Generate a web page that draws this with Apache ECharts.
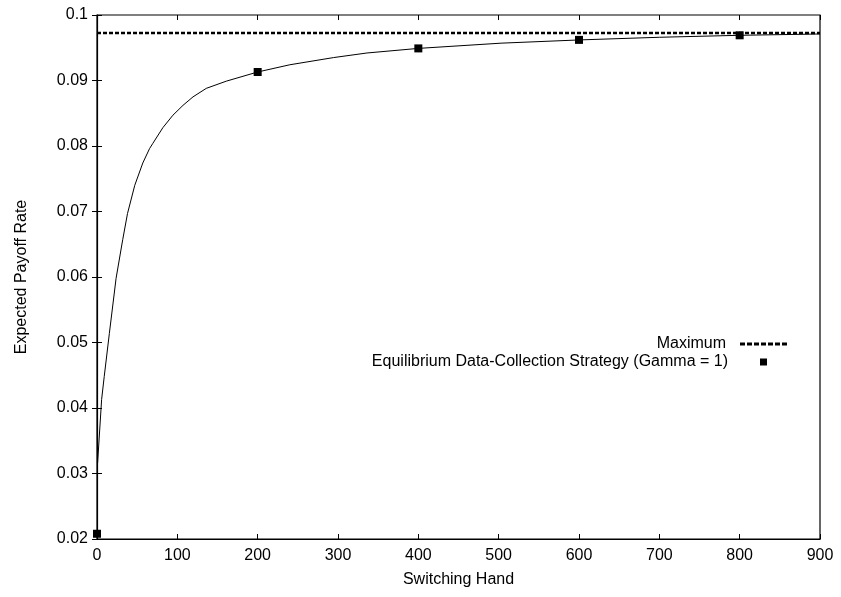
<!DOCTYPE html>
<html>
<head>
<meta charset="utf-8">
<script src="https://cdn.jsdelivr.net/npm/echarts@6/dist/echarts.min.js"></script>
<style>
  html, body { margin: 0; padding: 0; background: #fff; }
  #chart { width: 841px; height: 597px; }
</style>
</head>
<body>
<div id="chart"></div>
<script>
// values
var xTicks = [0, 100, 200, 300, 400, 500, 600, 700, 800, 900];
var curveX = [0.75, 5.75, 9, 15.4, 23.75, 32, 38, 47, 57, 65.4, 69.5, 82, 94.5, 107, 119.5, 136, 161, 200, 240, 294.5, 336, 400, 503, 602, 700, 800, 900];
var curveY = [0.0316, 0.0413, 0.0448, 0.0514, 0.0598, 0.0657, 0.0697, 0.0740, 0.0774, 0.0796, 0.0804, 0.0828, 0.0847, 0.0862, 0.0875, 0.0888, 0.0899, 0.0913, 0.0924, 0.0935, 0.0942, 0.0949, 0.0957, 0.0962, 0.0966, 0.0969, 0.0971];
var maxX = [0, 900];
var maxY = [0.09725, 0.09725];
var eqX = [0, 200, 400, 600, 800];
var eqY = [0.0208, 0.0913, 0.0949, 0.0962, 0.0969];

function pairs(xs, ys) {
    return xs.map(function (x, i) { return [x, ys[i]]; });
}

var font = 'Liberation Sans, Arial, sans-serif';
var fs = 16;
var chart = echarts.init(document.getElementById('chart'), null, { renderer: 'canvas' });

var tickIn = { show: true, inside: true, length: 5, lineStyle: { color: '#000', width: 1 } };
// legend sample for the dashed line: seven short dashes
var dashIcon = 'path://M0 0H5V1H0Z M7 0H12V1H7Z M14 0H19V1H14Z M21 0H26V1H21Z M28 0H33V1H28Z M35 0H40V1H35Z M42 0H47V1H42Z';

var option = {
    animation: false,
    grid: {
        left: 97, right: 21, top: 15, bottom: 58,
        show: true, borderColor: '#000', borderWidth: 1.2, backgroundColor: '#fff'
    },
    legend: [
        {
            data: [{ name: 'Maximum', icon: dashIcon }],
            right: 54, top: 336, padding: 0,
            align: 'right',
            itemWidth: 47, itemHeight: 3,
            symbolKeepAspect: false,
            itemStyle: { color: '#000' },
            textStyle: { fontFamily: font, fontSize: fs, color: '#000', padding: [0, 9, 0, 0] }
        },
        {
            data: [{ name: 'Equilibrium Data-Collection Strategy (Gamma = 1)', icon: 'rect' }],
            right: 74, top: 354, padding: 0,
            align: 'right',
            itemWidth: 7, itemHeight: 7,
            itemStyle: { color: '#000', opacity: 1 },
            textStyle: { fontFamily: font, fontSize: fs, color: '#000', padding: [0, 27, 0, 0] }
        }
    ],
    xAxis: [
        {
            type: 'value', min: 0, max: 900, interval: 100,
            name: 'Switching Hand', nameLocation: 'middle', nameGap: 33,
            nameTextStyle: { fontFamily: font, fontSize: fs, color: '#000' },
            axisLine: { show: true, lineStyle: { color: '#000', width: 1.2 } },
            axisTick: tickIn,
            axisLabel: { fontFamily: font, fontSize: fs, color: '#000', margin: 9,
                formatter: function (v) { return xTicks.indexOf(v) >= 0 ? String(v) : ''; } },
            splitLine: { show: false }
        },
        {
            type: 'value', min: 0, max: 900, interval: 100, position: 'top',
            axisLine: { show: false }, axisTick: tickIn,
            axisLabel: { show: false }, splitLine: { show: false }
        }
    ],
    yAxis: [
        {
            type: 'value', min: 0.02, max: 0.1, interval: 0.01,
            name: 'Expected Payoff Rate', nameLocation: 'middle', nameGap: 67,
            nameTextStyle: { fontFamily: font, fontSize: fs, color: '#000' },
            axisLine: { show: true, lineStyle: { color: '#000', width: 1.2 } },
            axisTick: tickIn,
            axisLabel: { fontFamily: font, fontSize: fs, color: '#000', margin: 9,
                formatter: function (v) { return String(Math.round(v * 100) / 100); } },
            splitLine: { show: false }
        },
        {
            type: 'value', min: 0.02, max: 0.1, interval: 0.01, position: 'right',
            axisLine: { show: false }, axisTick: tickIn,
            axisLabel: { show: false }, splitLine: { show: false }
        }
    ],
    series: [
        {
            name: 'curve',
            type: 'line',
            data: pairs(curveX, curveY),
            symbol: 'none',
            smooth: false,
            lineStyle: { color: '#000', width: 1 },
            z: 2
        },
        {
            name: 'Maximum',
            type: 'line',
            data: pairs(maxX, maxY),
            symbol: 'none',
            itemStyle: { color: '#000' },
            lineStyle: { color: '#000', width: 2.5, type: [4, 2] },
            z: 3
        },
        {
            name: 'Equilibrium Data-Collection Strategy (Gamma = 1)',
            type: 'scatter',
            data: pairs(eqX, eqY),
            symbol: 'rect',
            symbolSize: 8,
            itemStyle: { color: '#000', opacity: 1 },
            z: 4
        }
    ]
};
chart.setOption(option);
</script>
</body>
</html>
